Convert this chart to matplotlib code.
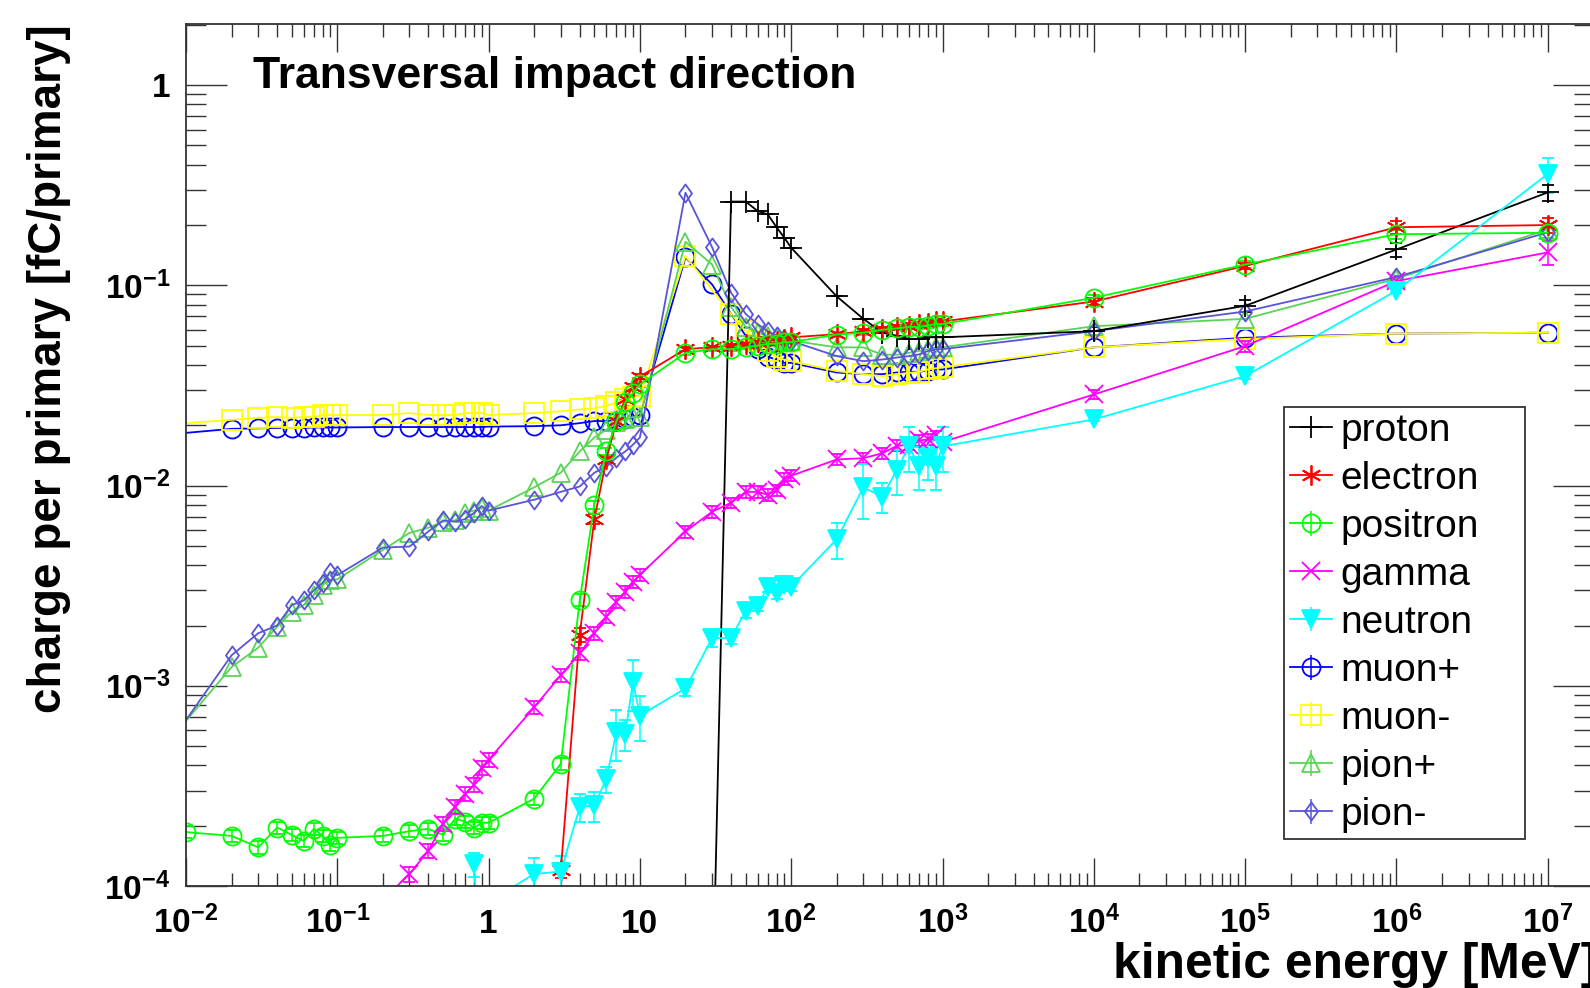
import matplotlib
matplotlib.use("Agg")
import matplotlib.pyplot as plt
from matplotlib.lines import Line2D
from matplotlib.legend_handler import HandlerTuple
from matplotlib.path import Path
from matplotlib.ticker import FixedLocator, FixedFormatter, LogLocator, NullFormatter

plt.rcParams['font.family'] = ['Liberation Sans', 'DejaVu Sans']
plt.rcParams['mathtext.fontset'] = 'custom'
plt.rcParams['mathtext.rm'] = 'Liberation Sans'
plt.rcParams['mathtext.it'] = 'Liberation Sans:italic'
plt.rcParams['mathtext.bf'] = 'Liberation Sans:bold'

# kinetic energies [MeV]
energy = [0.01, 0.02, 0.03, 0.04, 0.05, 0.06, 0.07, 0.08, 0.09,
          0.1, 0.2, 0.3, 0.4, 0.5, 0.6, 0.7, 0.8, 0.9,
          1, 2, 3, 4, 5, 6, 7, 8, 9,
          10, 20, 30, 40, 50, 60, 70, 80, 90,
          100, 200, 300, 400, 500, 600, 700, 800, 900,
          1000, 1e4, 1e5, 1e6, 1e7]
# muons and pions start just left of the frame (their lines enter from the edge)
energy_mu_pi = [0.005] + energy[1:]
energy_muon_minus = [e for e in energy_mu_pi if e != 30]
energy_proton = energy[29:]
energy_electron = energy[20:]
energy_gamma = energy[9:]
energy_neutron = energy[16:]

# charge per primary [fC/primary]
proton = [2e-5, 0.262, 0.262, 0.235, 0.226, 0.195, 0.173, 0.154,
          0.088, 0.068, 0.058, 0.056, 0.054, 0.054, 0.055, 0.055, 0.055,
          0.059, 0.079, 0.151, 0.291]
proton_err = [0, 0, 0, 0, 0, 0, 0, 0,
              0, 0, 0, 0, 0, 0, 0, 0, 0,
              0.003, 0.005, 0.012, 0.027]

electron = [1.2e-4, 1.8e-3, 6.8e-3, 0.0135, 0.021, 0.027, 0.031, 0.035,
            0.048, 0.049, 0.050, 0.051, 0.052, 0.053, 0.053, 0.054, 0.055,
            0.057, 0.059, 0.0605, 0.062, 0.063, 0.064, 0.065, 0.066, 0.066,
            0.083, 0.125, 0.195, 0.2]
electron_err = [1e-5, 1.5e-4, 4e-4, 6e-4, 8e-4, 9e-4, 1e-3, 1e-3,
                1e-3, 1e-3, 1e-3, 1e-3, 1e-3, 1e-3, 1e-3, 1e-3, 1e-3,
                1.5e-3, 1.5e-3, 1.5e-3, 1.5e-3, 1.5e-3, 1.5e-3, 1.5e-3, 1.5e-3, 1.5e-3,
                3e-3, 5e-3, 0.015, 0.018]

positron = [1.86e-4, 1.78e-4, 1.56e-4, 1.96e-4, 1.8e-4, 1.68e-4, 1.93e-4, 1.78e-4, 1.6e-4,
            1.74e-4, 1.78e-4, 1.88e-4, 1.93e-4, 1.8e-4, 2.17e-4, 2.1e-4, 1.95e-4, 2.07e-4,
            2.07e-4, 2.73e-4, 4.08e-4, 2.68e-3, 8.0e-3, 0.0148, 0.021, 0.026, 0.029,
            0.032, 0.046, 0.048, 0.048, 0.049, 0.050, 0.051, 0.051, 0.052,
            0.052, 0.0568, 0.058, 0.060, 0.061, 0.062, 0.062, 0.063, 0.064,
            0.064, 0.0867, 0.127, 0.18, 0.183]
positron_err = [1.3e-5, 1.2e-5, 1.1e-5, 1.4e-5, 1.3e-5, 1.2e-5, 1.4e-5, 1.2e-5, 1.1e-5,
                1.2e-5, 1.2e-5, 1.3e-5, 1.4e-5, 1.3e-5, 1.5e-5, 1.5e-5, 1.4e-5, 1.5e-5,
                1.5e-5, 2e-5, 3e-5, 1.8e-4, 4e-4, 6e-4, 8e-4, 9e-4, 1e-3,
                1e-3, 1e-3, 1e-3, 1e-3, 1e-3, 1e-3, 1e-3, 1e-3, 1e-3,
                1e-3, 1.5e-3, 1.5e-3, 1.5e-3, 1.5e-3, 1.5e-3, 1.5e-3, 1.5e-3, 1.5e-3,
                1.5e-3, 3e-3, 5e-3, 0.01, 0.01]

gamma = [3e-5, 8.5e-5, 1.15e-4, 1.5e-4, 2.05e-4, 2.48e-4, 2.88e-4, 3.2e-4, 3.9e-4,
         4.27e-4, 7.8e-4, 1.13e-3, 1.45e-3, 1.83e-3, 2.2e-3, 2.63e-3, 2.95e-3, 3.3e-3,
         3.58e-3, 5.9e-3, 7.4e-3, 8.2e-3, 9.3e-3, 9.3e-3, 9.0e-3, 9.5e-3, 0.0108,
         0.0112, 0.0135, 0.0137, 0.0145, 0.0158, 0.016, 0.0168, 0.017, 0.0178,
         0.0165, 0.0285, 0.0497, 0.105, 0.146]
gamma_err = [0, 7e-6, 1e-5, 1.2e-5, 1.6e-5, 2e-5, 2.3e-5, 2.5e-5, 3e-5,
             3.3e-5, 6e-5, 8e-5, 1e-4, 1.3e-4, 1.5e-4, 1.8e-4, 2e-4, 2.2e-4,
             2.4e-4, 4e-4, 5e-4, 5e-4, 6e-4, 6e-4, 6e-4, 6e-4, 7e-4,
             7e-4, 8e-4, 8e-4, 9e-4, 1e-3, 1e-3, 1e-3, 1e-3, 1e-3,
             1e-3, 1.5e-3, 3e-3, 6e-3, 0.02]

neutron = [1.29e-4, 3e-5, 8.3e-5,
           1.15e-4, 1.18e-4, 2.48e-4, 2.53e-4, 3.43e-4, 5.9e-4, 5.75e-4, 1.05e-3,
           7.1e-4, 9.7e-4, 1.73e-3, 1.73e-3, 2.37e-3, 2.5e-3, 3.13e-3, 2.9e-3, 3.2e-3,
           3.13e-3, 5.4e-3, 9.8e-3, 8.8e-3, 0.012, 0.0157, 0.0125, 0.0137, 0.0125,
           0.0157, 0.0214, 0.0352, 0.094, 0.36]
neutron_err = [1.8e-5, 1e-5, 1e-5,
               2.3e-5, 2.3e-5, 4e-5, 4.3e-5, 5e-5, 1.7e-4, 1e-4, 3e-4,
               1.8e-4, 8e-5, 1.6e-4, 1.2e-4, 2e-4, 1.5e-4, 2e-4, 2e-4, 1.5e-4,
               1.5e-4, 1.1e-3, 3e-3, 1.5e-3, 3e-3, 4e-3, 3e-3, 3e-3, 3e-3,
               4e-3, 5e-4, 1e-3, 2e-3, 0.07]

muon_plus = [0.0175, 0.0192, 0.0193, 0.0194, 0.0194, 0.0194, 0.0195, 0.0195, 0.0195,
             0.0195, 0.0196, 0.0196, 0.0196, 0.0196, 0.0196, 0.0196, 0.0196, 0.0196,
             0.0197, 0.0198, 0.0200, 0.0205, 0.0210, 0.0210, 0.0213, 0.0215, 0.0220,
             0.0225, 0.138, 0.101, 0.072, 0.056, 0.048, 0.044, 0.0425, 0.041,
             0.041, 0.0367, 0.036, 0.036, 0.0367, 0.037, 0.037, 0.0375, 0.038,
             0.038, 0.049, 0.0547, 0.0574, 0.058]

muon_minus = [0.0197, 0.0213, 0.0218, 0.022, 0.0218, 0.022, 0.022, 0.0225, 0.0225,
              0.0225, 0.0225, 0.023, 0.0225, 0.0225, 0.0225, 0.023, 0.023, 0.023,
              0.0225, 0.023, 0.0235, 0.024, 0.0243, 0.025, 0.026, 0.027, 0.0277,
              0.028, 0.14, 0.072, 0.059, 0.0527, 0.047, 0.044, 0.0425,
              0.0418, 0.0373, 0.036, 0.0352, 0.036, 0.0365, 0.037, 0.038, 0.0385,
              0.039, 0.049, 0.054, 0.0574, 0.058]

pion_plus = [3.6e-4, 1.24e-3, 1.55e-3, 1.97e-3, 2.34e-3, 2.53e-3, 2.84e-3, 3.19e-3, 3.39e-3,
             3.4e-3, 4.77e-3, 5.8e-3, 6.16e-3, 6.6e-3, 6.7e-3, 7.3e-3, 7.5e-3, 7.7e-3,
             7.5e-3, 9.8e-3, 0.0116, 0.0148, 0.0174, 0.019, 0.0207, 0.0214, 0.022,
             0.022, 0.165, 0.127, 0.078, 0.062, 0.058, 0.056, 0.055, 0.054,
             0.053, 0.049, 0.049, 0.045, 0.045, 0.046, 0.047, 0.048, 0.049,
             0.049, 0.0625, 0.068, 0.108, 0.19]

pion_minus = [3.2e-4, 1.42e-3, 1.83e-3, 2.0e-3, 2.53e-3, 2.67e-3, 3.0e-3, 3.27e-3, 3.7e-3,
              3.57e-3, 4.9e-3, 4.96e-3, 5.9e-3, 6.7e-3, 6.6e-3, 6.8e-3, 7.3e-3, 7.9e-3,
              7.5e-3, 8.5e-3, 9.3e-3, 9.9e-3, 0.0116, 0.0124, 0.0138, 0.0148, 0.016,
              0.0174, 0.29, 0.155, 0.092, 0.072, 0.064, 0.059, 0.056, 0.054,
              0.0527, 0.0443, 0.0418, 0.0426, 0.0436, 0.0443, 0.0452, 0.047, 0.048,
              0.048, 0.059, 0.074, 0.11, 0.184]

xtick_values = [1e-2, 1e-1, 1, 10, 1e2, 1e3, 1e4, 1e5, 1e6, 1e7]
xtick_labels = [r'$\mathbf{10^{-2}}$', r'$\mathbf{10^{-1}}$', '1', '10', r'$\mathbf{10^{2}}$',
                r'$\mathbf{10^{3}}$', r'$\mathbf{10^{4}}$', r'$\mathbf{10^{5}}$',
                r'$\mathbf{10^{6}}$', r'$\mathbf{10^{7}}$']
ytick_values = [1e-4, 1e-3, 1e-2, 1e-1, 1]
ytick_labels = [r'$\mathbf{10^{-4}}$', r'$\mathbf{10^{-3}}$', r'$\mathbf{10^{-2}}$',
                r'$\mathbf{10^{-1}}$', '1']

# ROOT-like open diamond
diamond = Path([(0, 1), (0.72, 0), (0, -1), (-0.72, 0), (0, 1)],
               [Path.MOVETO, Path.LINETO, Path.LINETO, Path.LINETO, Path.CLOSEPOLY])

fig = plt.figure(figsize=(15.9, 9.88), dpi=100)
ax = fig.add_axes([0.11698, 0.1032, 0.8855, 0.873])

lw = 1.3
mew = 1.3
cap = 4.3

series = [
    ("proton", energy_proton, proton, proton_err, "black", "+", 16, "black", False),
    ("electron", energy_electron, electron, electron_err, "#ff0000", (6, 2, 0), 14.5, "#ff0000", False),
    ("positron", energy, positron, positron_err, "#00ff00", "o", 13, "none", True),
    ("gamma", energy_gamma, gamma, gamma_err, "#ff00ff", "x", 13.5, "#ff00ff", False),
    ("neutron", energy_neutron, neutron, neutron_err, "#00ffff", "v", 12.5, "#00ffff", True),
    ("muon+", energy_mu_pi, muon_plus, None, "#0000ff", "o", 13, "none", True),
    ("muon-", energy_muon_minus, muon_minus, None, "#ffff00", "s", 14, "none", True),
    ("pion+", energy_mu_pi, pion_plus, None, "#59d454", "^", 13.5, "none", True),
    ("pion-", energy_mu_pi, pion_minus, None, "#5954d9", diamond, 13, "none", True),
]

handles = []
labels = []
for name, x, y, err, color, marker, ms, mfc, vbar in series:
    if err is not None:
        ax.errorbar(x, y, yerr=err, color=color, lw=lw, marker=marker, ms=ms,
                    mfc=mfc, mec=color, mew=mew, elinewidth=1.1, capsize=cap, capthick=1.1)
    else:
        ax.plot(x, y, color=color, lw=lw, marker=marker, ms=ms, mfc=mfc, mec=color, mew=mew)
    h = Line2D([], [], color=color, lw=lw, marker=marker, ms=ms, mfc=mfc, mec=color, mew=mew)
    if vbar:
        v = Line2D([], [], color=color, lw=0, marker='|', ms=ms + 5, mew=1.1)
        handles.append((h, v))
    else:
        handles.append((h,))
    labels.append(name)

ax.set_xscale('log')
ax.set_yscale('log')
ax.set_xlim(1e-2, 2.02e7)
ax.set_ylim(1e-4, 2.03)

ax.xaxis.set_major_locator(FixedLocator(xtick_values))
ax.xaxis.set_major_formatter(FixedFormatter(xtick_labels))
ax.xaxis.set_minor_locator(LogLocator(base=10, subs=range(2, 10), numticks=100))
ax.xaxis.set_minor_formatter(NullFormatter())
ax.yaxis.set_major_locator(FixedLocator(ytick_values))
ax.yaxis.set_major_formatter(FixedFormatter(ytick_labels))
ax.yaxis.set_minor_locator(LogLocator(base=10, subs=range(2, 10), numticks=100))
ax.yaxis.set_minor_formatter(NullFormatter())

ax.tick_params(which='both', direction='in', top=True, right=True, color='#333333', width=1.0)
ax.tick_params(axis='x', which='major', length=20, labelsize=24, pad=34)
ax.tick_params(axis='x', which='minor', length=9.5)
ax.tick_params(axis='y', which='major', length=29.5, labelsize=24, pad=11.5)
ax.tick_params(axis='y', which='minor', length=14.5)
for t in ax.xaxis.get_major_ticks():
    t.label1.set_verticalalignment('baseline')
    t.label1.set_fontweight('bold')
for t in ax.yaxis.get_major_ticks():
    t.label1.set_fontweight('bold')

for sp in ax.spines.values():
    sp.set_linewidth(1.3)
    sp.set_color('#333333')

leg = ax.legend(handles, labels, handler_map={tuple: HandlerTuple(ndivide=1)},
                loc='upper left', bbox_to_anchor=(0.7798, 0.0572, 0.1712, 0.4985),
                mode='expand', fontsize=28, numpoints=1, fancybox=False, framealpha=1,
                edgecolor='#333333', borderpad=0.15, labelspacing=0.31,
                handlelength=1.08, handletextpad=0.22, borderaxespad=0)
leg.get_frame().set_linewidth(1.3)

fig.text(0.1594, 0.9106, 'Transversal impact direction', fontsize=32,
         fontweight='bold', va='baseline', ha='left')
fig.text(1597 / 1590, 0.0101, 'kinetic energy [MeV]', fontsize=35.8,
         fontweight='bold', va='baseline', ha='right')
fig.text(0.0311, 0.627, 'charge per primary [fC/primary]', fontsize=33,
         fontweight='bold', rotation=90, va='center', ha='center')

fig.savefig('out.png', dpi=100)
